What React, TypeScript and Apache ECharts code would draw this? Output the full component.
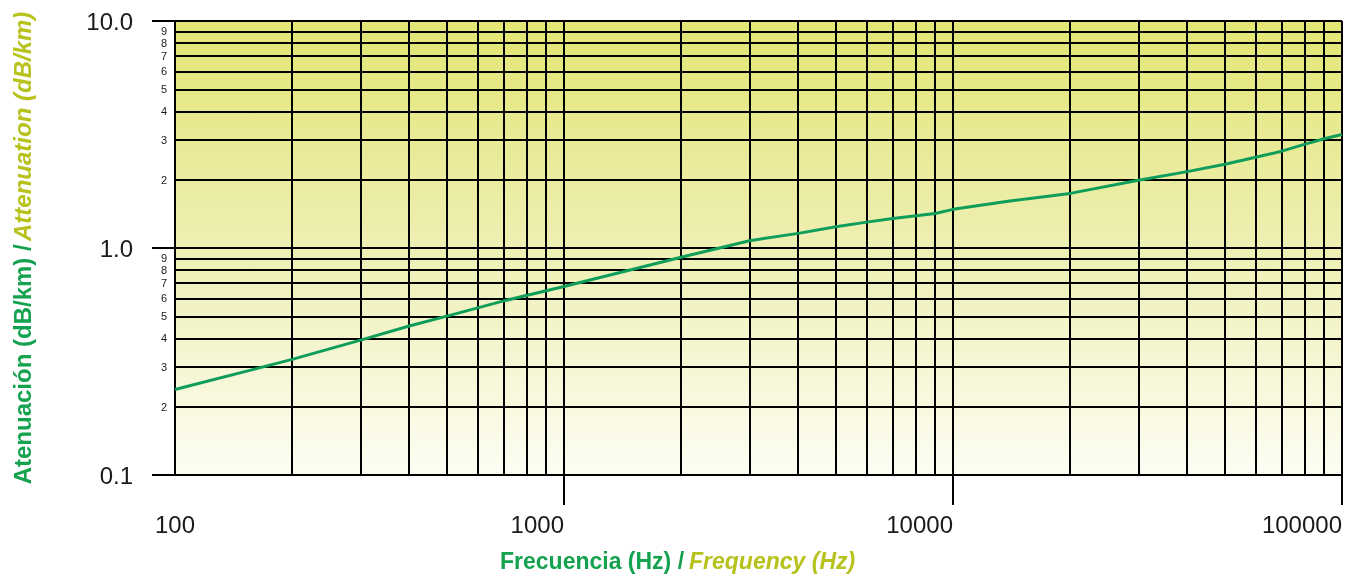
import React, { useEffect, useRef } from "react";
import * as echarts from "echarts";

const frequencies = [100, 200, 300, 400, 500, 700, 1000, 2000, 3000, 4000, 5000, 6000, 7000, 9000, 10000, 14000, 20000, 30000, 40000, 50000, 60000, 70000, 80000, 90000, 100000];
const attenuation = [0.238, 0.323, 0.393, 0.453, 0.501, 0.585, 0.677, 0.91, 1.077, 1.16, 1.24, 1.3, 1.35, 1.42, 1.48, 1.61, 1.74, 1.99, 2.17, 2.34, 2.51, 2.67, 2.86, 3.03, 3.16];

const xGridValues = [200, 300, 400, 500, 600, 700, 800, 900, 1000, 2000, 3000, 4000, 5000, 6000, 7000, 8000, 9000, 10000, 20000, 30000, 40000, 50000, 60000, 70000, 80000, 90000, 100000];
const yGridValues = [0.2, 0.3, 0.4, 0.5, 0.6, 0.7, 0.8, 0.9, 1, 2, 3, 4, 5, 6, 7, 8, 9, 10];
const yMinorLabels = ["2", "3", "4", "5", "6", "7", "8", "9", "", "2", "3", "4", "5", "6", "7", "8", "9", ""];
const xTickValues = [1000, 10000, 100000];

const xTitleEs = "Frecuencia (Hz) /";
const xTitleEn = "Frequency (Hz)";
const yTitleEs = "Atenuación (dB/km) /";
const yTitleEn = "Attenuation (dB/km)";

const GREEN = "#14a24f";
const OLIVE = "#b7c21d";
const FONT = "'Liberation Sans', Arial, Helvetica, sans-serif";

export default function App() {
  const ref = useRef<HTMLDivElement>(null);
  useEffect(() => {
    if (!ref.current) return;
    const chart = echarts.init(ref.current, null, { renderer: "svg" });
    const gridLineData: any[] = [];
    xGridValues.forEach((v) => gridLineData.push({ xAxis: v, label: { show: false } }));
    yGridValues.forEach((v, i) =>
      gridLineData.push({
        yAxis: v,
        label: {
          show: yMinorLabels[i] !== "",
          position: "start",
          formatter: yMinorLabels[i],
          distance: 8,
          fontSize: 11,
          color: "#1a1a1a",
          fontFamily: FONT,
        },
      })
    );
    chart.setOption({
      animation: false,
      textStyle: { fontFamily: FONT },
      title: {
        text: `{g|${xTitleEs}} {y|${xTitleEn}}`,
        left: 500,
        top: 549,
        padding: 0,
        textStyle: {
          rich: {
            g: { color: GREEN, fontSize: 23, fontWeight: "bold", fontFamily: FONT },
            y: { color: OLIVE, fontSize: 23, fontWeight: "bold", fontStyle: "italic", fontFamily: FONT },
          },
        },
      },
      grid: {
        left: 175,
        right: 6,
        top: 21,
        bottom: 103,
        show: true,
        borderWidth: 0,
        backgroundColor: new echarts.graphic.LinearGradient(0, 0, 0, 1, [
          { offset: 0, color: "#e3e574" },
          { offset: 0.5, color: "#eeefb3" },
          { offset: 1, color: "#fdfdf4" },
        ]),
      },
      xAxis: {
        type: "log",
        logBase: 10,
        min: 100,
        max: 100000,
        axisLine: { show: true, lineStyle: { color: "#000", width: 2 } },
        axisTick: { show: true, customValues: xTickValues, length: 30, lineStyle: { color: "#000", width: 2 } },
        axisLabel: {
          fontSize: 24,
          color: "#1a1a1a",
          margin: 37,
          align: "right",
          alignMinLabel: "center",
          formatter: (v: number) => String(Math.round(v)),
        },
        splitLine: { show: false },
      },
      yAxis: {
        type: "log",
        logBase: 10,
        min: 0.1,
        max: 10,
        name: `{g|${yTitleEs}} {y|${yTitleEn}}`,
        nameLocation: "middle",
        nameRotate: 90,
        nameGap: 141,
        nameTextStyle: {
          rich: {
            g: { color: GREEN, fontSize: 24, fontWeight: "bold", fontFamily: FONT },
            y: { color: OLIVE, fontSize: 24, fontWeight: "bold", fontStyle: "italic", fontFamily: FONT },
          },
        },
        axisLine: { show: true, lineStyle: { color: "#000", width: 2 } },
        axisTick: { show: true, length: 23, lineStyle: { color: "#000", width: 2 } },
        axisLabel: {
          fontSize: 24,
          color: "#1a1a1a",
          margin: 42,
          formatter: (v: number) => v.toFixed(1),
        },
        splitLine: { show: false },
      },
      series: [
        {
          type: "line",
          data: [],
          z: 1,
          silent: true,
          markLine: {
            silent: true,
            symbol: "none",
            animation: false,
            lineStyle: { color: "#000", width: 2, type: "solid" },
            data: gridLineData,
          },
        },
        {
          type: "line",
          z: 5,
          data: frequencies.map((f, i) => [f, attenuation[i]]),
          showSymbol: false,
          symbol: "none",
          lineStyle: { color: "#0f9d5a", width: 3 },
        },
      ],
    });
    return () => chart.dispose();
  }, []);
  return <div ref={ref} style={{ position: "fixed", left: 0, top: 0, width: 1348, height: 578 }} />;
}
